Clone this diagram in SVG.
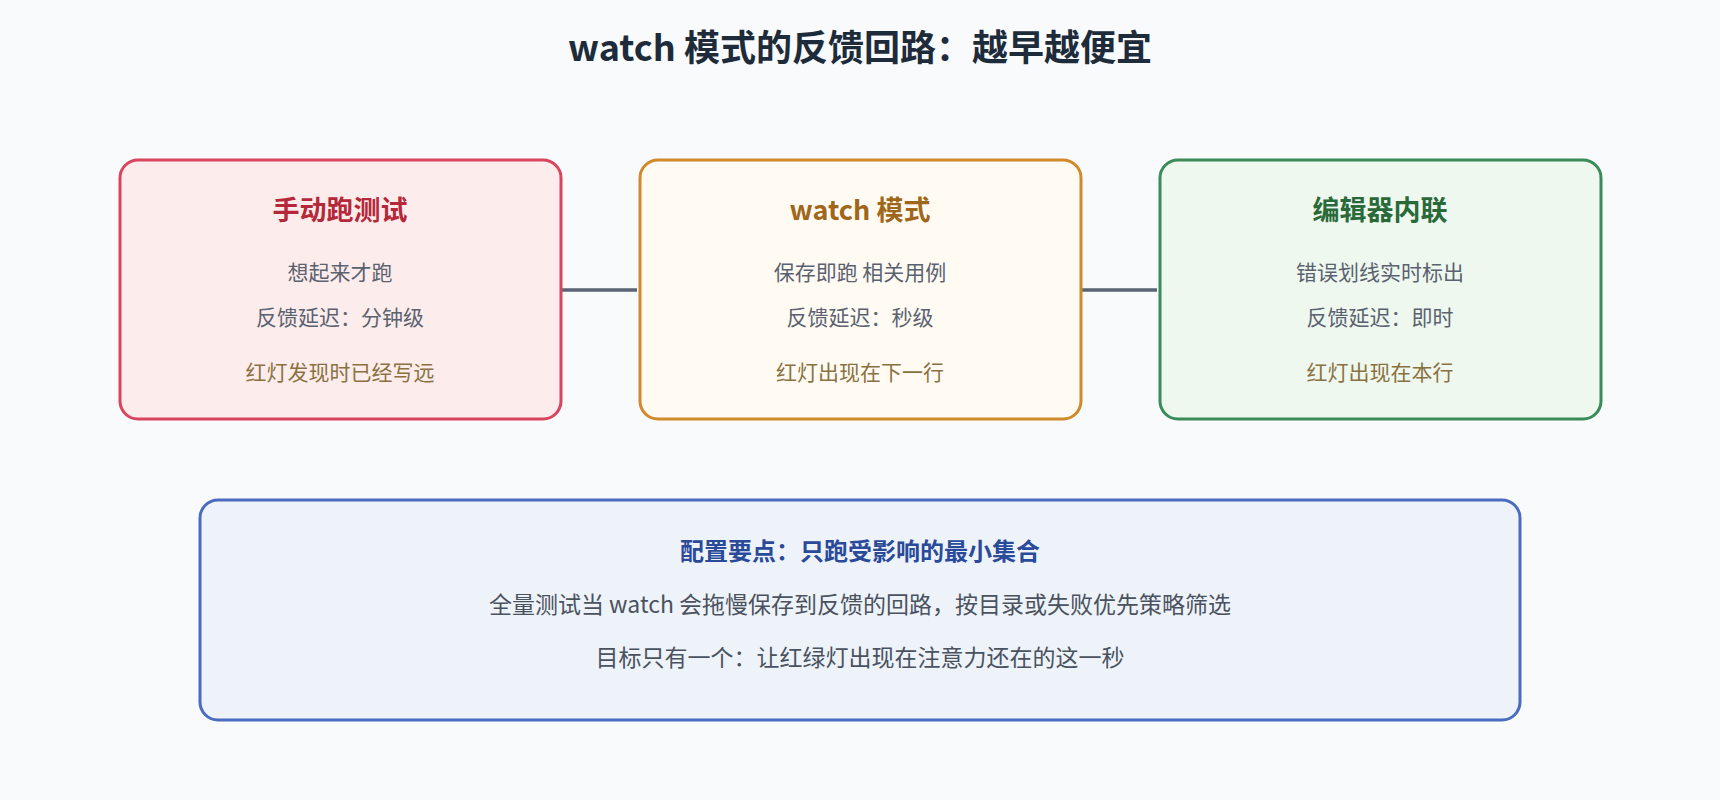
<svg xmlns="http://www.w3.org/2000/svg" width="1720" height="800" viewBox="0 0 1720 800">
<style>
text{font-family:"Noto Sans CJK SC","Noto Sans",sans-serif;text-anchor:middle}
.t{font-size:27px;font-weight:bold}
.b{font-size:21px;fill:#5a6270}
.n{font-size:21px;fill:#8a7240}
.box{stroke-width:3}
</style>
<rect width="1720" height="800" fill="#f8fafc"/>
<text x="860" y="61" style="font-size:36px;font-weight:bold;fill:#1e2b3a">watch 模式的反馈回路：越早越便宜</text>
<g id="connectors" stroke="#5a6472" stroke-width="3.5">
<line x1="561" y1="290" x2="637" y2="290"/>
<line x1="1081" y1="290" x2="1157" y2="290"/>
</g>
<g id="manual">
<rect class="box" x="120" y="160" width="441" height="259" rx="18" fill="#fdecec" stroke="#d9445f"/>
<text class="t" x="340" y="220" fill="#b5283a">手动跑测试</text>
<text class="b" x="340" y="280">想起来才跑</text>
<text class="b" x="340" y="325">反馈延迟：分钟级</text>
<text class="n" x="340" y="380">红灯发现时已经写远</text>
</g>
<g id="watch">
<rect class="box" x="640" y="160" width="441" height="259" rx="18" fill="#fffbf3" stroke="#d08a2a"/>
<text class="t" x="860" y="220" fill="#a0661a">watch 模式</text>
<text class="b" x="860" y="280">保存即跑 相关用例</text>
<text class="b" x="860" y="325">反馈延迟：秒级</text>
<text class="n" x="860" y="380">红灯出现在下一行</text>
</g>
<g id="editor">
<rect class="box" x="1160" y="160" width="441" height="259" rx="18" fill="#eef8ee" stroke="#3a8a5a"/>
<text class="t" x="1380" y="220" fill="#2a6a3a">编辑器内联</text>
<text class="b" x="1380" y="280">错误划线实时标出</text>
<text class="b" x="1380" y="325">反馈延迟：即时</text>
<text class="n" x="1380" y="380">红灯出现在本行</text>
</g>
<g id="config">
<rect class="box" x="200" y="500" width="1320" height="220" rx="18" fill="#eef3fa" stroke="#4a6bbf"/>
<text x="860" y="560" style="font-size:24px;font-weight:bold;fill:#2a4a9a">配置要点：只跑受影响的最小集合</text>
<text x="860" y="613" style="font-size:23px;fill:#4a5260">全量测试当 watch 会拖慢保存到反馈的回路，按目录或失败优先策略筛选</text>
<text x="860" y="666" style="font-size:23px;fill:#4a5260">目标只有一个：让红绿灯出现在注意力还在的这一秒</text>
</g>
</svg>
